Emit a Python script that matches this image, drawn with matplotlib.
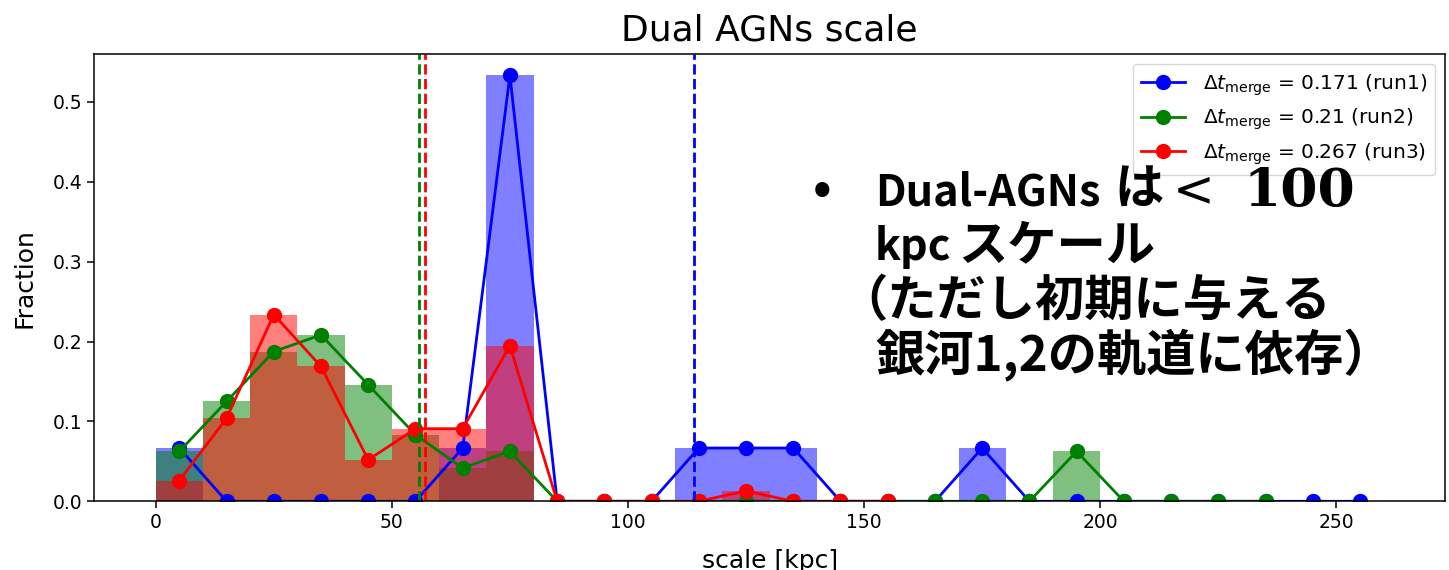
import numpy as np
import matplotlib
matplotlib.use("Agg")
import matplotlib.pyplot as plt

# Fraction of dual-AGN pairs per 10 kpc separation bin
run1_edges = np.arange(0, 270, 10)
run1_frac = [0.0667, 0.0, 0.0, 0.0, 0.0, 0.0, 0.0667, 0.5333, 0.0, 0.0,
             0.0, 0.0667, 0.0667, 0.0667, 0.0, 0.0, 0.0, 0.0667, 0.0, 0.0,
             0.0, 0.0, 0.0, 0.0, 0.0, 0.0]

run2_edges = np.arange(0, 250, 10)
run2_frac = [0.0625, 0.125, 0.1875, 0.2083, 0.1458, 0.0833, 0.0417, 0.0625,
             0.0, 0.0, 0.0, 0.0, 0.0, 0.0, 0.0, 0.0, 0.0, 0.0, 0.0, 0.0625,
             0.0, 0.0, 0.0, 0.0]

run3_edges = np.arange(0, 170, 10)
run3_frac = [0.026, 0.1039, 0.2338, 0.1688, 0.0519, 0.0909, 0.0909, 0.1948,
             0.0, 0.0, 0.0, 0.0, 0.013, 0.0, 0.0, 0.0]

# Mean separation of each run
run_means = [113.9, 55.8, 57.0]
run_dt = ["0.171", "0.21", "0.267"]
run_names = ["run1", "run2", "run3"]
run_colors = ["blue", "green", "red"]

W, H, DPI = 1449, 570, 100
fig = plt.figure(figsize=(W / DPI, H / DPI), dpi=DPI)
ax = fig.add_axes([94.3 / W, 1 - 501.3 / H, (1445 - 94.3) / W, (501.3 - 54) / H])

series = [(run1_edges, run1_frac), (run2_edges, run2_frac), (run3_edges, run3_frac)]

for (edges, frac), c in zip(series, run_colors):
    centers = 0.5 * (edges[:-1] + edges[1:])
    ax.hist(centers, bins=edges, weights=frac, color=c, alpha=0.5)

for (edges, frac), c, dt, name in zip(series, run_colors, run_dt, run_names):
    centers = 0.5 * (edges[:-1] + edges[1:])
    ax.plot(centers, frac, "o-", color=c, lw=2, markersize=10,
            label=r"$\Delta t_{\rm merge}$ = %s (%s)" % (dt, name))

for m, c in zip(run_means, run_colors):
    ax.axvline(m, color=c, ls="--", lw=2)

ax.set_xlim(-13, 273)
ax.set_ylim(0, 0.56)
ax.set_xticks([0, 50, 100, 150, 200, 250])
ax.set_yticks([0.0, 0.1, 0.2, 0.3, 0.4, 0.5])
ax.tick_params(labelsize=13.5, length=5, width=1.1)
for s in ax.spines.values():
    s.set_linewidth(1.1)

ax.set_title("Dual AGNs scale", fontsize=26, pad=10)
ax.set_xlabel("scale [kpc]", fontsize=18, labelpad=12)
ax.set_ylabel("Fraction", fontsize=18, labelpad=12)

ax.legend(loc="upper right", fontsize=14.5, handlelength=2.2,
          handletextpad=0.85, labelspacing=0.45)

# Slide annotation
jp = "Noto Sans CJK JP"
fs_cjk = 35.5
fs_lat = 31
def px(x, y):
    return x / W, 1 - y / H

fig.text(*px(822, 190), "•", fontsize=fs_cjk, family=jp, weight="bold",
         ha="center", va="center")
fig.text(*px(875, 205), "Dual-AGNs", fontsize=fs_lat, family=jp, weight="bold",
         ha="left", va="baseline")
fig.text(*px(1114, 205), "は", fontsize=fs_cjk, family=jp, weight="bold",
         ha="left", va="baseline")
fig.text(*px(1194, 205), "<", fontsize=36, family="DejaVu Sans",
         ha="center", va="baseline")
fig.text(*px(1243, 206), "100", fontsize=38.5, family="DejaVu Serif",
         weight="bold", ha="left", va="baseline")
fig.text(*px(875, 260), "kpc", fontsize=fs_lat, family=jp, weight="bold",
         ha="left", va="baseline")
fig.text(*px(958, 260), "スケール", fontsize=fs_cjk, family=jp, weight="bold",
         ha="left", va="baseline")
fig.text(*px(838, 316), "（ただし初期に与える", fontsize=fs_cjk, family=jp,
         weight="bold", ha="left", va="baseline")
fig.text(*px(875, 371), "銀河1,2の軌道に依存）", fontsize=fs_cjk, family=jp,
         weight="bold", ha="left", va="baseline")

fig.savefig("out.png", dpi=DPI)
